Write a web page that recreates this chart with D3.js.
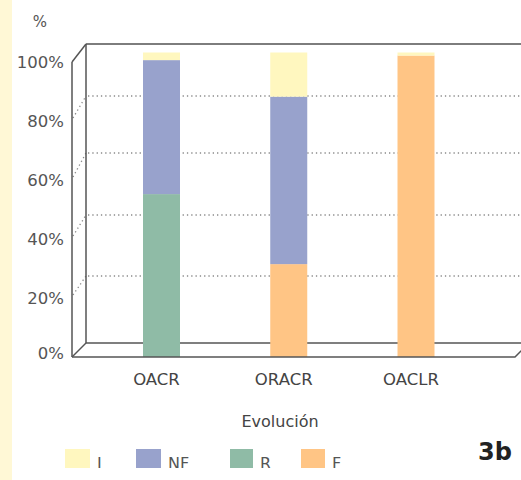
<!DOCTYPE html>
<html>
<head>
<meta charset="utf-8">
<script src="https://cdn.jsdelivr.net/npm/d3@7/dist/d3.min.js"></script>
<style>
  html, body { margin: 0; padding: 0; background: #fff; }
  svg { display: block; font-family: "DejaVu Sans", sans-serif; }
</style>
</head>
<body>
<svg id="chart" width="521" height="480"></svg>
<script>
// Outcome shares (%) per evolution group
const categories = ["OACR", "ORACR", "OACLR"];
const seriesKeys = ["F", "R", "NF", "I"];          // stacking order, bottom to top
const legendKeys = ["I", "NF", "R", "F"];
const valuesI  = [2.5, 14.5, 1];
const valuesNF = [44, 55, 0];
const valuesR  = [53.5, 0, 0];
const valuesF  = [0, 30.5, 99];
const tickValues = [0, 20, 40, 60, 80, 100];
const tickLabels = ["0%", "20%", "40%", "60%", "80%", "100%"];
const gridValues = [20, 40, 60, 80];

const colors = { I: "#fff7bf", NF: "#98a2cc", R: "#8fbba6", F: "#ffc585" };

const rows = categories.map((c, i) => ({
  cat: c, I: valuesI[i], NF: valuesNF[i], R: valuesR[i], F: valuesF[i]
}));

const svg = d3.select("#chart");
const W = 521, H = 480;

// Pseudo-3D box geometry
const frontX = 72, backX = 86;
const depthDx = backX - frontX;

// Scales: front edge (tick labels), back wall (gridlines, slightly foreshortened), bars
const yFront = d3.scaleLinear().domain([0, 100]).range([357, 62]);
const yBack = d3.scaleLinear().domain(tickValues).range([343, 276, 215, 153, 96, 44]);
const yBar = d3.scaleLinear().domain([0, 100]).range([357, 52.5]);
const xCenter = d3.scalePoint().domain(categories).range([161.5, 416]);
const barW = 37;

// Left margin strip
svg.append("rect").attr("x", 0).attr("y", 0).attr("width", 12).attr("height", H)
  .attr("fill", "#fff8d6");

// Back wall dotted gridlines
const grid = svg.append("g").attr("stroke", "#8a8a8a").attr("stroke-width", 1.3)
  .attr("stroke-dasharray", "1.3,3").attr("fill", "none");
gridValues.forEach(v => {
  grid.append("line").attr("x1", backX + 2).attr("x2", W)
    .attr("y1", yBack(v)).attr("y2", yBack(v));
  grid.append("line").attr("x1", frontX + 1).attr("x2", backX)
    .attr("y1", yFront(v) - 3).attr("y2", yBack(v));
});

// Frame: back wall edge, top, floor
const frame = svg.append("g").attr("fill", "none");
frame.append("line").attr("x1", backX).attr("x2", W).attr("y1", yBack(100)).attr("y2", yBack(100))
  .attr("stroke", "#7d7d7d").attr("stroke-width", 2.2);
frame.append("line").attr("x1", backX).attr("x2", backX).attr("y1", yBack(100)).attr("y2", yBack(0))
  .attr("stroke", "#555").attr("stroke-width", 1.5);
frame.append("line").attr("x1", backX).attr("x2", W).attr("y1", yBack(0)).attr("y2", yBack(0))
  .attr("stroke", "#555").attr("stroke-width", 1.5);
frame.append("line").attr("x1", frontX).attr("x2", backX).attr("y1", yFront(0)).attr("y2", yBack(0))
  .attr("stroke", "#555").attr("stroke-width", 1.5);
frame.append("line").attr("x1", frontX).attr("x2", frontX).attr("y1", yFront(100)).attr("y2", yFront(0))
  .attr("stroke", "#555").attr("stroke-width", 1.5);
frame.append("line").attr("x1", frontX).attr("x2", backX).attr("y1", yFront(100)).attr("y2", yBack(100))
  .attr("stroke", "#555").attr("stroke-width", 1.5);

// Stacked bars
const stack = d3.stack().keys(seriesKeys)(rows);
const bars = svg.append("g");
stack.forEach(layer => {
  bars.selectAll(null).data(layer.filter(d => d[1] - d[0] > 0)).join("rect")
    .attr("x", d => xCenter(d.data.cat) - barW / 2)
    .attr("width", barW)
    .attr("y", d => yBar(d[1]))
    .attr("height", d => yBar(d[0]) - yBar(d[1]))
    .attr("fill", colors[layer.key]);
});

// Front floor edge drawn over bar bases
svg.append("path")
  .attr("d", `M${frontX},${yFront(0)}H515L${515 + depthDx},${yBack(0)}`)
  .attr("fill", "none").attr("stroke", "#555").attr("stroke-width", 1.5);

// Y tick labels
svg.append("g").selectAll("text").data(tickValues).join("text")
  .attr("x", 64).attr("y", d => yFront(d) + 6 - (d === 0 ? 4 : 0))
  .attr("text-anchor", "end").attr("font-size", 16.5).attr("fill", "#555")
  .text((d, i) => tickLabels[i]);

svg.append("text").attr("x", 40).attr("y", 27).attr("text-anchor", "middle")
  .attr("font-size", 15).attr("fill", "#555").text("%");

// Category labels
svg.append("g").selectAll("text").data(categories).join("text")
  .attr("x", d => xCenter(d) - 5).attr("y", 385)
  .attr("text-anchor", "middle").attr("font-size", 16.5).attr("fill", "#444")
  .text(d => d);

svg.append("text").attr("x", 280).attr("y", 427).attr("text-anchor", "middle")
  .attr("font-size", 16).attr("fill", "#444").text("Evolución");

// Legend (bottom edge is cropped)
svg.append("defs").append("clipPath").attr("id", "legendClip")
  .append("rect").attr("x", 0).attr("y", 0).attr("width", W).attr("height", 468);
const legendX = [65, 136, 230, 301];
const legendW = [25, 25, 23, 24];
const legend = svg.append("g").attr("clip-path", "url(#legendClip)");
legendKeys.forEach((k, i) => {
  legend.append("rect").attr("x", legendX[i]).attr("y", 449)
    .attr("width", legendW[i]).attr("height", 22).attr("fill", colors[k]);
  legend.append("text").attr("x", legendX[i] + legendW[i] + 7).attr("y", 469)
    .attr("font-size", 16).attr("fill", "#555").text(k);
});

svg.append("text").attr("x", 478).attr("y", 460).attr("font-size", 24)
  .attr("font-weight", "bold").attr("fill", "#222").text("3b");
</script>
</body>
</html>
